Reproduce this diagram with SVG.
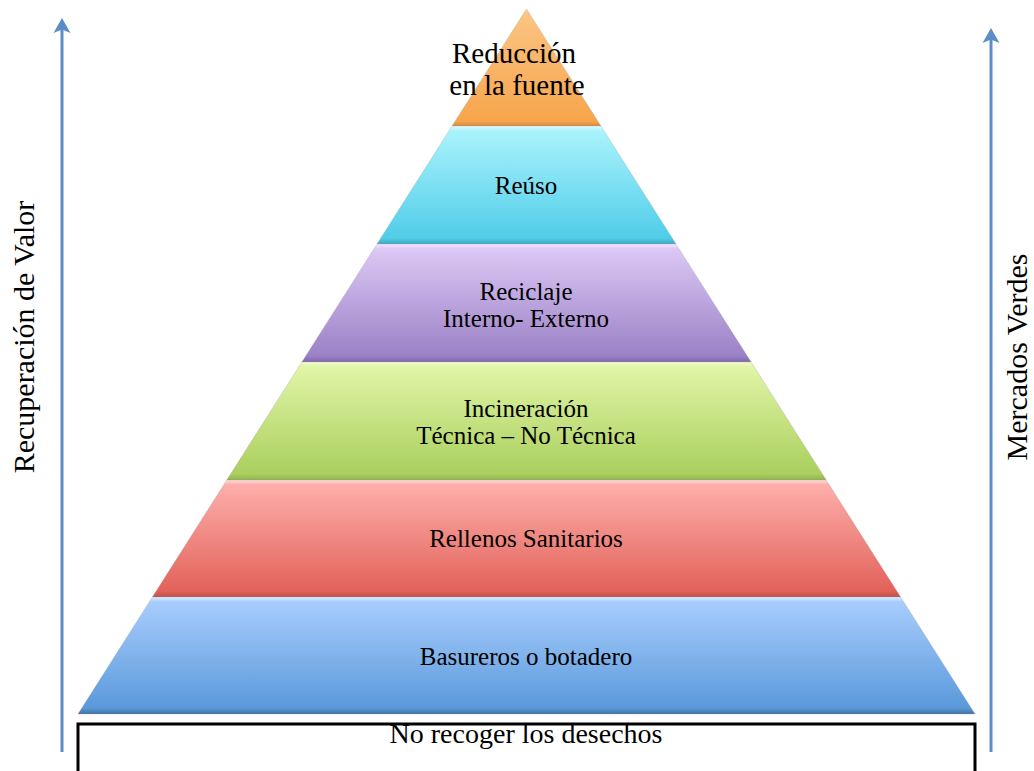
<svg xmlns="http://www.w3.org/2000/svg" width="1034" height="771" viewBox="0 0 1034 771">
  <defs>
    <!-- vertical gradients with a bevel: light top rim, dark bottom rim -->
    <linearGradient id="gOrange" x1="0" y1="0" x2="0" y2="1">
      <stop offset="0" stop-color="#fde0bd"/>
      <stop offset="0.03" stop-color="#fcc482"/>
      <stop offset="0.96" stop-color="#f7a54c"/>
      <stop offset="1" stop-color="#d98a3a"/>
    </linearGradient>
    <linearGradient id="gCyan" x1="0" y1="0" x2="0" y2="1">
      <stop offset="0" stop-color="#e2fbff"/>
      <stop offset="0.04" stop-color="#aaf3fd"/>
      <stop offset="0.95" stop-color="#50cde8"/>
      <stop offset="1" stop-color="#3aa9c4"/>
    </linearGradient>
    <linearGradient id="gPurple" x1="0" y1="0" x2="0" y2="1">
      <stop offset="0" stop-color="#f3eafd"/>
      <stop offset="0.04" stop-color="#dcc8f5"/>
      <stop offset="0.95" stop-color="#9b81c6"/>
      <stop offset="1" stop-color="#7f66a8"/>
    </linearGradient>
    <linearGradient id="gGreen" x1="0" y1="0" x2="0" y2="1">
      <stop offset="0" stop-color="#f2fbd6"/>
      <stop offset="0.04" stop-color="#e1f5a7"/>
      <stop offset="0.95" stop-color="#aacf5d"/>
      <stop offset="1" stop-color="#8fb34b"/>
    </linearGradient>
    <linearGradient id="gRed" x1="0" y1="0" x2="0" y2="1">
      <stop offset="0" stop-color="#ffdcda"/>
      <stop offset="0.04" stop-color="#feaeaa"/>
      <stop offset="0.95" stop-color="#e2625a"/>
      <stop offset="1" stop-color="#c24c46"/>
    </linearGradient>
    <linearGradient id="gBlue" x1="0" y1="0" x2="0" y2="1">
      <stop offset="0" stop-color="#dcedff"/>
      <stop offset="0.04" stop-color="#a8cdfd"/>
      <stop offset="0.95" stop-color="#5a99db"/>
      <stop offset="1" stop-color="#41709f"/>
    </linearGradient>
  </defs>
  <style>
    .lbl { font-family: "Liberation Serif", "Times New Roman", serif; font-size: 25px; fill: #000; text-anchor: middle; }
    .big { font-size: 29px; }
    .side { font-family: "Liberation Serif", "Times New Roman", serif; fill: #000; text-anchor: middle; }
    .axis { stroke: #5b8ec9; stroke-width: 3; fill: none; }
    .head { fill: #5b8ec9; }
    .layer { stroke: #9a9a9a; stroke-width: 0.6; stroke-opacity: 0.5; }
  </style>

  <rect width="1034" height="771" fill="#ffffff"/>

  <!-- side axes with upward arrowheads -->
  <g id="axes">
    <line class="axis" x1="62" y1="752" x2="62" y2="26"/>
    <path class="head" d="M62,18 L70.5,33 L62,29.5 L53.5,33 Z"/>
    <line class="axis" x1="991" y1="752" x2="991" y2="36"/>
    <path class="head" d="M991,28 L999.5,43 L991,39.5 L982.5,43 Z"/>
  </g>

  <g id="side-labels">
    <text class="side" style="font-size:30px" transform="translate(34,337) rotate(-90)">Recuperación de Valor</text>
    <text class="side" style="font-size:30px" transform="translate(1027,357) rotate(-90)">Mercados Verdes</text>
  </g>

  <!-- pyramid levels, top to bottom -->
  <g id="level-reduccion">
    <polygon class="layer" points="526.5,9 600.9,126 452.1,126" fill="url(#gOrange)"/>
    <text class="lbl big" x="514" y="63">Reducción</text>
    <text class="lbl big" x="517" y="95">en la fuente</text>
  </g>
  <g id="level-reuso">
    <polygon class="layer" points="452.1,126 600.9,126 676,244 377,244" fill="url(#gCyan)"/>
    <text class="lbl" x="526" y="194">Reúso</text>
  </g>
  <g id="level-reciclaje">
    <polygon class="layer" points="377,244 676,244 751.1,362 301.9,362" fill="url(#gPurple)"/>
    <text class="lbl" x="526" y="300">Reciclaje</text>
    <text class="lbl" x="526" y="327">Interno- Externo</text>
  </g>
  <g id="level-incineracion">
    <polygon class="layer" points="301.9,362 751.1,362 826.2,480 226.8,480" fill="url(#gGreen)"/>
    <text class="lbl" x="526" y="417">Incineración</text>
    <text class="lbl" x="526" y="444">Técnica – No Técnica</text>
  </g>
  <g id="level-rellenos">
    <polygon class="layer" points="226.8,480 826.2,480 900.6,597 152.4,597" fill="url(#gRed)"/>
    <text class="lbl" x="526" y="547">Rellenos Sanitarios</text>
  </g>
  <g id="level-basureros">
    <polygon class="layer" points="152.4,597 900.6,597 975,714 78,714" fill="url(#gBlue)"/>
    <text class="lbl" x="526" y="665">Basureros o botadero</text>
  </g>

  <g id="base-box">
    <rect x="78" y="724" width="897" height="60" fill="#ffffff" stroke="#000000" stroke-width="3"/>
    <text class="lbl" x="526" y="743" style="font-size:28px">No recoger los desechos</text>
  </g>
</svg>
